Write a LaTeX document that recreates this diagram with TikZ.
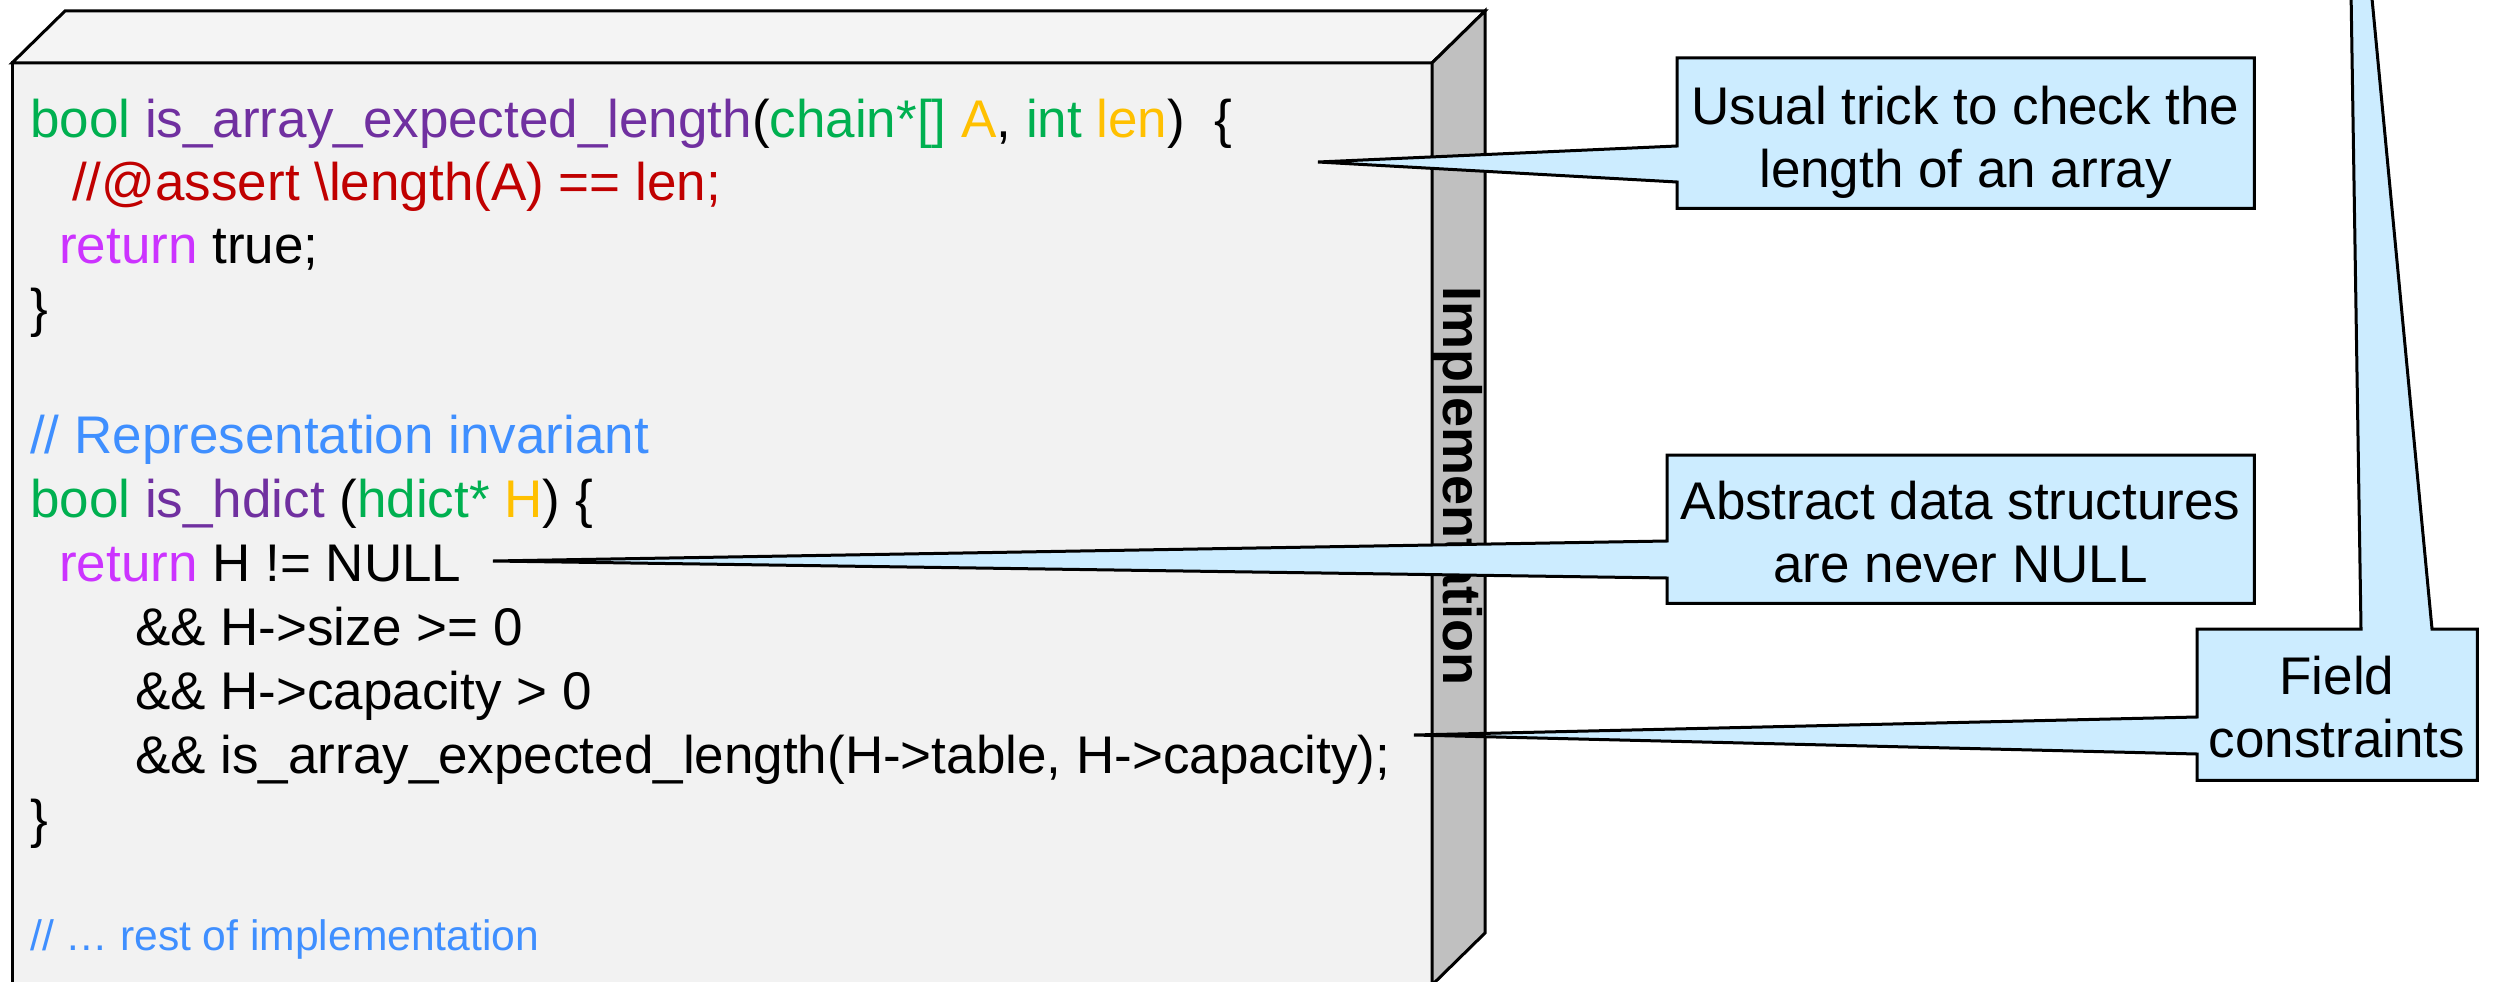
\documentclass[tikz,border=0pt]{standalone}
\usepackage{fontspec}
\setmainfont{Liberation Sans}
\definecolor{kwgreen}{HTML}{00B050}
\definecolor{fnpurple}{HTML}{7030A0}
\definecolor{argorange}{HTML}{FFC000}
\definecolor{cmred}{HTML}{C00000}
\definecolor{retmag}{HTML}{CC33FF}
\definecolor{cmblue}{HTML}{3F8FFF}
\definecolor{callfill}{HTML}{CCECFF}
\definecolor{facefront}{HTML}{F2F2F2}
\definecolor{facetop}{HTML}{F4F4F4}
\definecolor{faceside}{HTML}{C0C0C0}
\tikzset{
  face/.style={draw=black, line width=3pt, line join=miter},
  codeline/.style={anchor=base west, inner sep=0pt, font=\fontsize{53}{63}\selectfont},
  smallcode/.style={anchor=base west, inner sep=0pt, font=\fontsize{42.6}{50}\selectfont, text=cmblue},
  callbox/.style={anchor=north west, inner sep=0pt, minimum width=#1},
  callshape/.style={fill=callfill, draw=black, line width=3pt, line join=miter},
  calltext/.style={inner sep=0pt, align=center, font=\fontsize{53}{63}\selectfont},
  sidelabel/.style={rotate=-90, anchor=base, inner sep=0pt, font=\bfseries\fontsize{54}{60}\selectfont}
}
\begin{document}
\begin{tikzpicture}[x=1pt, y=-1pt]
\clip (0,0) rectangle (2503,982);
\fill[white] (0,0) rectangle (2503,982);
% 3D box
\filldraw[face, fill=facefront] (12,63) rectangle (1432,1000);
\filldraw[face, fill=facetop] (12,63) -- (65,11) -- (1485,11) -- (1432,63) -- cycle;
\filldraw[face, fill=faceside] (1432,63) -- (1485,11) -- (1485,933) -- (1432,985) -- cycle;
\node[sidelabel] (impl) at (1443,486) {Implementation};
% code
\node[codeline] (l1) at (30,137) {\textcolor{kwgreen}{bool} \textcolor{fnpurple}{is\_array\_expected\_length}(\textcolor{kwgreen}{chain*[]} \textcolor{argorange}{A}, \textcolor{kwgreen}{int} \textcolor{argorange}{len})\ \ \{};
\node[codeline, text=cmred] (l2) at (72,200) {//@assert \textbackslash length(A) == len;};
\node[codeline] (l3) at (59,263) {\textcolor{retmag}{return} true;};
\node[codeline] (l4) at (30,326) {\}};
\node[codeline, text=cmblue] (l6) at (30,453) {// Representation invariant};
\node[codeline] (l7) at (30,517) {\textcolor{kwgreen}{bool} \textcolor{fnpurple}{is\_hdict} (\textcolor{kwgreen}{hdict*} \textcolor{argorange}{H}) \{};
\node[codeline] (l8) at (59,581) {\textcolor{retmag}{return} H != NULL};
\node[codeline] (l9) at (135,645) {\&\& H->size >= 0};
\node[codeline] (l10) at (135,709) {\&\& H->capacity > 0};
\node[codeline] (l11) at (135,773) {\&\& is\_array\_expected\_length(H->table, H->capacity);};
\node[codeline] (l12) at (30,837) {\}};
\node[smallcode] (l14) at (30,950) {// … rest of implementation};
% callout 1
\node[callbox=577pt, minimum height=150pt] (usual) at (1677,58) {};
\coordinate (usualtip) at (1318,162);
\filldraw[callshape] (usual.north west) -- (usual.north east) -- (usual.south east) -- (usual.south west) -- (1677,182) -- (usualtip) -- (1677,146) -- cycle;
\node[calltext] (usualtext) at (1965.5,142) {Usual trick to check the\\length of an array};
% callout 2
\node[callbox=587pt, minimum height=148pt] (abstract) at (1667,455) {};
\coordinate (abstracttip) at (493,561);
\filldraw[callshape] (abstract.north west) -- (abstract.north east) -- (abstract.south east) -- (abstract.south west) -- (1667,578) -- (abstracttip) -- (1667,541) -- cycle;
\node[calltext] (abstracttext) at (1960.5,532) {Abstract data structures\\are never NULL};
% callout 3
\node[callbox=280pt, minimum height=151pt] (field) at (2197,629) {};
\coordinate (fieldtip) at (1414,735);
\coordinate (fieldtoptip) at (2347,-264);
\filldraw[callshape] (field.north west) -- (2361,629) -- (fieldtoptip) -- (2432,629) -- (field.north east) -- (field.south east) -- (field.south west) -- (2197,754) -- (fieldtip) -- (2197,717) -- cycle;
\node[calltext] (fieldtext) at (2337,707) {Field\\constraints};
\end{tikzpicture}
\end{document}
